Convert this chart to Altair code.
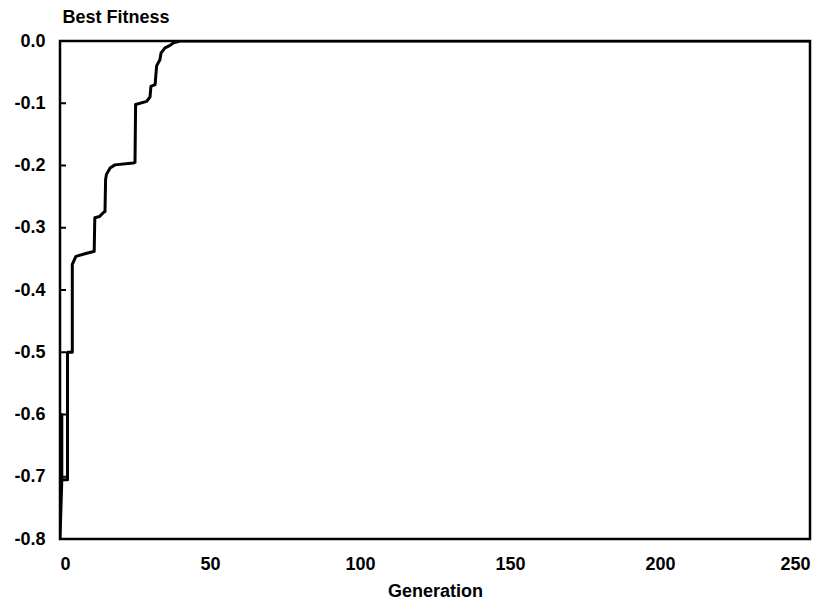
import altair as alt
import pandas as pd

# Best-fitness trace (generation, fitness), in drawing order
gen = [0, 0.6, 0.6, 0.6, 2.5, 2.5, 4.1, 4.1, 5.3, 8.9, 10.6, 11.4, 11.6, 13.2, 14.4,
       15.0, 15.2, 15.5, 16.7, 18.3, 24.4, 25.0, 25.2, 28.9, 30.0, 30.3, 31.7,
       32.2, 33.3, 33.7, 35.0, 36.7, 37.8, 40.0, 250.0]
fit = [-0.80, -0.705, -0.60, -0.705, -0.705, -0.50, -0.50, -0.359, -0.346, -0.341,
       -0.339, -0.338, -0.284, -0.282, -0.276, -0.274, -0.222, -0.214, -0.204,
       -0.199, -0.196, -0.195, -0.102, -0.097, -0.090, -0.073, -0.070, -0.040,
       -0.030, -0.019, -0.011, -0.007, -0.003, 0.0, 0.0]

x_ticks = [0, 50, 100, 150, 200, 250]
y_ticks = [-0.8, -0.7, -0.6, -0.5, -0.4, -0.3, -0.2, -0.1, 0.0]

df = pd.DataFrame({"gen": gen, "fit": fit, "i": list(range(len(gen)))})
tick_df = pd.DataFrame({"v": y_ticks})
frame_df = pd.DataFrame({"k": [0]})

FONT = "Liberation Sans"

xscale = alt.Scale(domain=[0, 250], nice=False, zero=False)
yscale = alt.Scale(domain=[-0.8, 0.0], nice=False, zero=False)

line = alt.Chart(df).mark_line(
    color="black", strokeWidth=3, strokeJoin="round", strokeCap="round", clip=True
).encode(
    x=alt.X("gen:Q", scale=xscale,
            axis=alt.Axis(values=x_ticks, title="Generation", ticks=False, domain=False,
                          grid=False, labelPadding=16, titlePadding=9,
                          labelFontSize=18, titleFontSize=18, labelFont=FONT,
                          labelFontWeight="bold",
                          titleFont=FONT, titleFontWeight="bold",
                          labelColor="black", titleColor="black")),
    y=alt.Y("fit:Q", scale=yscale,
            axis=alt.Axis(values=y_ticks, title="Best Fitness", ticks=False, domain=False,
                          grid=False, labelPadding=15,
                          labelExpr="replace(format(datum.value, '.1f'), '\u2212', '-')",
                          labelFontSize=18, titleFontSize=18, labelFont=FONT,
                          labelFontWeight="bold",
                          titleFont=FONT, titleFontWeight="bold",
                          titleAngle=0, titleAlign="left", titleBaseline="middle",
                          titleX=2, titleY=-24,
                          labelColor="black", titleColor="black")),
    order="i:Q",
)

ticks = alt.Chart(tick_df).mark_rule(color="black", strokeWidth=2).encode(
    y=alt.Y("v:Q", scale=yscale),
    x=alt.value(0),
    x2=alt.value(6),
)

frame = alt.Chart(frame_df).mark_rect(
    fill=None, fillOpacity=0, stroke="black", strokeWidth=2.5
).encode(
    x=alt.value(0), x2=alt.value(750), y=alt.value(0), y2=alt.value(498)
)

chart = alt.layer(frame, ticks, line).properties(
    width=750, height=498,
    autosize=alt.AutoSizeParams(type="none"),
    padding={"left": 52, "top": 33, "right": 12, "bottom": 66},
).configure_view(
    stroke=None
).configure(background="white")

chart.save("out.html", embed_options={"renderer": "svg", "actions": False})
